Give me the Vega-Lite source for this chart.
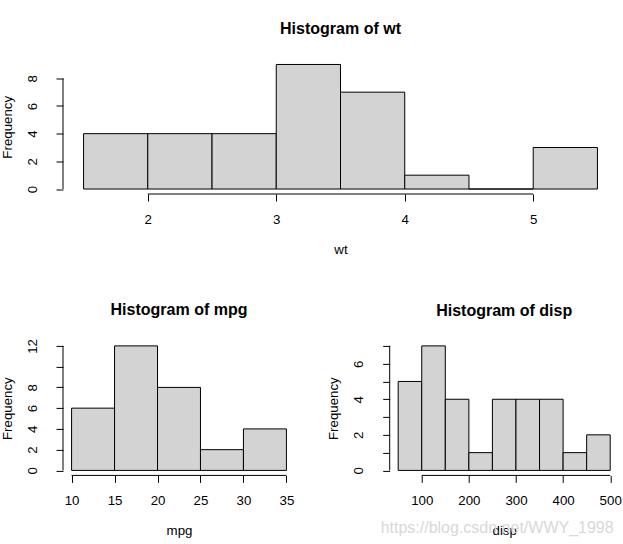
{
  "$schema": "https://vega.github.io/schema/vega-lite/v6.json",
  "padding": {"left": 0, "top": 20.5, "right": 0, "bottom": 0},
  "bounds": "flush",
  "spacing": 146.4,
  "background": "white",
  "config": {
    "font": "Liberation Sans",
    "view": {"stroke": null},
    "axis": {
      "domain": false, "grid": false, "ticks": true, "tickColor": "black", "tickSize": 7, "tickWidth": 1,
      "labelFont": "Liberation Sans", "labelFontSize": 13.3, "labelColor": "black", "labelFlush": false, "labelOverlap": false, "labelSeparation": -40,
      "titleFont": "Liberation Sans", "titleFontSize": 13.3, "titleFontWeight": "normal", "titleColor": "black", "zindex": 1
    },
    "axisX": {"labelPadding": 11.5, "labelAngle": 0, "titleY": 55.5, "titleBaseline": "middle"},
    "axisY": {"titleX": -56, "titleBaseline": "middle", "titleAngle": 270, "labelOverlap": false},
    "axisQuantitative": {"labelOverlap": false},
    "title": {"font": "Liberation Sans", "fontSize": 16, "fontWeight": "bold", "color": "black", "anchor": "middle", "frame": "group", "baseline": "alphabetic", "offset": 22.5}
  },
  "datasets": {
    "wt": [
      {"bin_start": 1.5, "bin_end": 2.0, "count": 4},
      {"bin_start": 2.0, "bin_end": 2.5, "count": 4},
      {"bin_start": 2.5, "bin_end": 3.0, "count": 4},
      {"bin_start": 3.0, "bin_end": 3.5, "count": 9},
      {"bin_start": 3.5, "bin_end": 4.0, "count": 7},
      {"bin_start": 4.0, "bin_end": 4.5, "count": 1},
      {"bin_start": 4.5, "bin_end": 5.0, "count": 0},
      {"bin_start": 5.0, "bin_end": 5.5, "count": 3}
    ],
    "mpg": [
      {"bin_start": 10, "bin_end": 15, "count": 6},
      {"bin_start": 15, "bin_end": 20, "count": 12},
      {"bin_start": 20, "bin_end": 25, "count": 8},
      {"bin_start": 25, "bin_end": 30, "count": 2},
      {"bin_start": 30, "bin_end": 35, "count": 4}
    ],
    "disp": [
      {"bin_start": 50, "bin_end": 100, "count": 5},
      {"bin_start": 100, "bin_end": 150, "count": 7},
      {"bin_start": 150, "bin_end": 200, "count": 4},
      {"bin_start": 200, "bin_end": 250, "count": 1},
      {"bin_start": 250, "bin_end": 300, "count": 4},
      {"bin_start": 300, "bin_end": 350, "count": 4},
      {"bin_start": 350, "bin_end": 400, "count": 4},
      {"bin_start": 400, "bin_end": 450, "count": 1},
      {"bin_start": 450, "bin_end": 500, "count": 2}
    ],
    "one": [{}],
    "mark": [{"t": "https://blog.csdn.net/WWY_1998"}]
  },
  "vconcat": [
    {
      "width": 555, "height": 134.5,
      "title": "Histogram of wt",
      "layer": [
        {
          "data": {"name": "wt"},
          "mark": {"type": "bar", "fill": "#d3d3d3", "stroke": "black", "strokeWidth": 1},
          "encoding": {
            "x": {"field": "bin_start", "type": "quantitative", "scale": {"domain": [1.34, 5.66], "nice": false, "zero": false}, "axis": {"values": [2, 3, 4, 5], "format": "d", "labelOverlap": false, "title": "wt"}},
            "x2": {"field": "bin_end"},
            "y": {"field": "count", "type": "quantitative", "scale": {"domain": [-0.36, 9.36], "nice": false, "zero": false}, "axis": {"values": [0, 2, 4, 6, 8], "tickCount": 5, "format": "d", "labelOverlap": false, "labelAngle": 270, "labelAlign": "center", "labelBaseline": "middle", "labelPadding": 24, "title": "Frequency"}},
            "y2": {"datum": 0}
          }
        },
        {
          "data": {"name": "one"},
          "mark": {"type": "rule", "color": "black", "strokeWidth": 1},
          "encoding": {
            "x": {"datum": 2, "type": "quantitative", "scale": {"domain": [1.34, 5.66], "nice": false, "zero": false}},
            "x2": {"datum": 5},
            "y": {"datum": -0.36, "type": "quantitative", "scale": {"domain": [-0.36, 9.36], "nice": false, "zero": false}}
          }
        },
        {
          "data": {"name": "one"},
          "mark": {"type": "rule", "color": "black", "strokeWidth": 1},
          "encoding": {
            "x": {"datum": 1.34, "type": "quantitative", "scale": {"domain": [1.34, 5.66], "nice": false, "zero": false}},
            "y": {"datum": 0, "type": "quantitative", "scale": {"domain": [-0.36, 9.36], "nice": false, "zero": false}},
            "y2": {"datum": 8}
          }
        }
      ]
    },
    {
      "bounds": "flush",
      "spacing": 94.7,
      "hconcat": [
        {
          "width": 232, "height": 134.5,
          "title": {"text": "Histogram of mpg", "offset": 20.5},
          "layer": [
            {
              "data": {"name": "mpg"},
              "mark": {"type": "bar", "fill": "#d3d3d3", "stroke": "black", "strokeWidth": 1},
              "encoding": {
                "x": {"field": "bin_start", "type": "quantitative", "scale": {"domain": [9, 36], "nice": false, "zero": false}, "axis": {"values": [10, 15, 20, 25, 30, 35], "format": "d", "labelOverlap": false, "title": "mpg"}},
                "x2": {"field": "bin_end"},
                "y": {"field": "count", "type": "quantitative", "scale": {"domain": [-0.48, 12.48], "nice": false, "zero": false}, "axis": {"values": [0, 2, 4, 6, 8, 10, 12], "tickCount": 7, "format": "d", "labelOverlap": false, "labelAngle": 270, "labelAlign": "center", "labelBaseline": "middle", "labelPadding": 24, "labelExpr": "datum.value == 10 ? '' : datum.label", "title": "Frequency"}},
                "y2": {"datum": 0}
              }
            },
            {
              "data": {"name": "one"},
              "mark": {"type": "rule", "color": "black", "strokeWidth": 1},
              "encoding": {
                "x": {"datum": 10, "type": "quantitative", "scale": {"domain": [9, 36], "nice": false, "zero": false}},
                "x2": {"datum": 35},
                "y": {"datum": -0.48, "type": "quantitative", "scale": {"domain": [-0.48, 12.48], "nice": false, "zero": false}}
              }
            },
            {
              "data": {"name": "one"},
              "mark": {"type": "rule", "color": "black", "strokeWidth": 1},
              "encoding": {
                "x": {"datum": 9, "type": "quantitative", "scale": {"domain": [9, 36], "nice": false, "zero": false}},
                "y": {"datum": 0, "type": "quantitative", "scale": {"domain": [-0.48, 12.48], "nice": false, "zero": false}},
                "y2": {"datum": 12}
              }
            }
          ]
        },
        {
          "width": 229, "height": 134.5,
          "title": {"text": "Histogram of disp", "offset": 22},
          "layer": [
            {
              "data": {"name": "disp"},
              "mark": {"type": "bar", "fill": "#d3d3d3", "stroke": "black", "strokeWidth": 1},
              "encoding": {
                "x": {"field": "bin_start", "type": "quantitative", "scale": {"domain": [32, 518], "nice": false, "zero": false}, "axis": {"values": [100, 200, 300, 400, 500], "format": "d", "labelOverlap": false, "title": "disp"}},
                "x2": {"field": "bin_end"},
                "y": {"field": "count", "type": "quantitative", "scale": {"domain": [-0.28, 7.28], "nice": false, "zero": false}, "axis": {"values": [0, 1, 2, 3, 4, 5, 6, 7], "tickCount": 8, "format": "d", "labelOverlap": false, "labelAngle": 270, "labelAlign": "center", "labelBaseline": "middle", "labelPadding": 24, "labelExpr": "datum.value % 2 == 0 ? datum.label : ''", "title": "Frequency"}},
                "y2": {"datum": 0}
              }
            },
            {
              "data": {"name": "one"},
              "mark": {"type": "rule", "color": "black", "strokeWidth": 1},
              "encoding": {
                "x": {"datum": 100, "type": "quantitative", "scale": {"domain": [32, 518], "nice": false, "zero": false}},
                "x2": {"datum": 500},
                "y": {"datum": -0.28, "type": "quantitative", "scale": {"domain": [-0.28, 7.28], "nice": false, "zero": false}}
              }
            },
            {
              "data": {"name": "one"},
              "mark": {"type": "rule", "color": "black", "strokeWidth": 1},
              "encoding": {
                "x": {"datum": 32, "type": "quantitative", "scale": {"domain": [32, 518], "nice": false, "zero": false}},
                "y": {"datum": 0, "type": "quantitative", "scale": {"domain": [-0.28, 7.28], "nice": false, "zero": false}},
                "y2": {"datum": 7}
              }
            },
            {
              "data": {"name": "mark"},
              "mark": {"type": "text", "font": "Liberation Sans", "fontSize": 16, "color": "#d8d8d8", "align": "center", "baseline": "middle"},
              "encoding": {
                "text": {"field": "t"},
                "x": {"datum": 260, "type": "quantitative", "scale": {"domain": [32, 518], "nice": false, "zero": false}},
                "y": {"datum": -3.23, "type": "quantitative", "scale": {"domain": [-0.28, 7.28], "nice": false, "zero": false}}
              }
            }
          ]
        }
      ]
    }
  ]
}
